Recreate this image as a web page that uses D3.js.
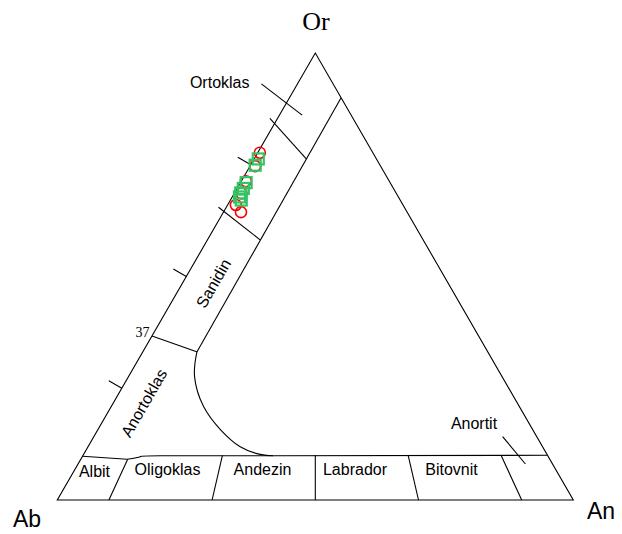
<!DOCTYPE html>
<html>
<head>
<meta charset="utf-8">
<script src="https://cdn.jsdelivr.net/npm/d3@7"></script>
<style>
  body { margin: 0; background: #fff; }
  svg { display: block; }
  .sans { font-family: "Liberation Sans", Arial, sans-serif; }
  .serif { font-family: "Liberation Serif", "Times New Roman", serif; }
</style>
</head>
<body>
<svg id="chart" width="622" height="534"></svg>
<script>
// compositions are [An, Or] in percent, Ab = 100 - An - Or

// samples (red circles / green squares)
const circleAn = [0.4, 1.0, 0.9, 1.4, 1.6, 3.4];
const circleOr = [77.7, 74.7, 71.3, 68.6, 66.0, 64.4];
const squareAn = [0.8, 0.9, 1.1, 1.2, 1.2, 1.4, 2.1];
const squareOr = [76.3, 74.9, 71.0, 69.7, 68.7, 67.8, 67.1];

// field boundaries
const alkaliLimit = [[10, 90], [10.5, 33.1]];
const solvusCurve = [[10.5, 33.1], [12.8, 27.6], [17.9, 20.9], [23.8, 15.7], [29.5, 11.9], [34.2, 10.2], [36.9, 9.9]];
const albitTop = [[0, 9.8], [9.0, 9.1]];
const plagTop = [[9.0, 9.1], [11.2, 9.7], [15, 9.9], [36.9, 9.9], [90, 10]];
const alkaliCross = [
  [[-1.5, 85.4], [10.1, 76.3]],
  [[-1.5, 65.5], [10.2, 58.2]],
  [[0, 36.7], [10.6, 33.1]]
];
const plagRatios = [10, 30, 50, 70, 90];       // An/(Ab+An) dividers
const plagTopOr = [9.1, 10, 10, 10, 10];
const edgeTicksOr = [25, 50, 75];
const leaders = [
  [[-7.0, 93.1], [4.4, 86.1]],   // Ortoklas
  [[79.2, 14.2], [86.7, 8.05]]   // Anortit
];

const fieldNames = ["Ortoklas", "Albit", "Oligoklas", "Andezin", "Labrador", "Bitovnit", "Anortit"];
const fieldPos = [[219.7, 88.3], [94.5, 476.7], [167.5, 474.5], [262.5, 475], [355, 475], [451.5, 475], [474, 428.5]];
const rotNames = ["Sanidin", "Anortoklas"];
const rotPos = [[213.5, 283.3], [144, 403]];

const svg = d3.select("#chart");

const x = d3.scaleLinear().domain([0, 100]).range([57.3, 573.3]);
const y = d3.scaleLinear().domain([0, 100]).range([500, 53]);
const project = ([an, or]) => [x(an + or / 2), y(or)];

const line = d3.line().x(d => project(d)[0]).y(d => project(d)[1]);
const curve = d3.line().x(d => project(d)[0]).y(d => project(d)[1]).curve(d3.curveNatural);

const g = svg.append("g").attr("fill", "none").attr("stroke", "#000").attr("stroke-width", 1.1);

// outer triangle
g.append("path").attr("d", line([[0, 0], [100, 0], [0, 100], [0, 0]]) + "Z");

g.append("path").attr("d", line(alkaliLimit));
g.append("path").attr("d", curve(solvusCurve));
g.append("path").attr("d", line(albitTop));
g.append("path").attr("d", curve(plagTop.slice(0, 4)));
g.append("path").attr("d", line(plagTop.slice(3)));

alkaliCross.forEach(seg => g.append("path").attr("d", line(seg)));
leaders.forEach(seg => g.append("path").attr("d", line(seg)));

plagRatios.forEach((r, i) => {
  const top = plagTopOr[i];
  g.append("path").attr("d", line([[r * (100 - top) / 100, top], [r, 0]]));
});

// outward ticks on Ab-Or edge
edgeTicksOr.forEach(o => {
  const [px, py] = project([0, o]);
  g.append("line")
    .attr("x1", px).attr("y1", py)
    .attr("x2", px - 15 * Math.cos(Math.PI / 6))
    .attr("y2", py - 15 * Math.sin(Math.PI / 6));
});

// samples
svg.append("g").selectAll("circle")
  .data(circleAn.map((a, i) => [a, circleOr[i]]))
  .join("circle")
  .attr("cx", d => project(d)[0])
  .attr("cy", d => project(d)[1])
  .attr("r", 5.5)
  .attr("fill", "none")
  .attr("stroke", "#ff0000")
  .attr("stroke-width", 1.6);

svg.append("g").selectAll("rect")
  .data(squareAn.map((a, i) => [a, squareOr[i]]))
  .join("rect")
  .attr("x", d => project(d)[0] - 5.5)
  .attr("y", d => project(d)[1] - 5.5)
  .attr("width", 11)
  .attr("height", 11)
  .attr("fill", "none")
  .attr("stroke", "#33c466")
  .attr("stroke-width", 2.2);

// vertex labels
svg.append("text").attr("class", "serif").attr("x", 316).attr("y", 30)
  .attr("text-anchor", "middle").attr("font-size", 26).text("Or");
svg.append("text").attr("class", "sans").attr("x", 13).attr("y", 527)
  .attr("font-size", 23).text("Ab");
svg.append("text").attr("class", "sans").attr("x", 587).attr("y", 519)
  .attr("font-size", 23).text("An");

svg.append("text").attr("class", "serif").attr("x", 149.5).attr("y", 337)
  .attr("text-anchor", "end").attr("font-size", 14).text("37");

svg.append("g").selectAll("text")
  .data(fieldNames)
  .join("text")
  .attr("class", "sans")
  .attr("x", (d, i) => fieldPos[i][0])
  .attr("y", (d, i) => fieldPos[i][1])
  .attr("text-anchor", "middle")
  .attr("font-size", 16)
  .text(d => d);

svg.append("g").selectAll("text")
  .data(rotNames)
  .join("text")
  .attr("class", "sans")
  .attr("transform", (d, i) => `translate(${rotPos[i][0]},${rotPos[i][1]}) rotate(-60)`)
  .attr("text-anchor", "middle")
  .attr("dy", "0.35em")
  .attr("font-size", 16)
  .text(d => d);
</script>
</body>
</html>
